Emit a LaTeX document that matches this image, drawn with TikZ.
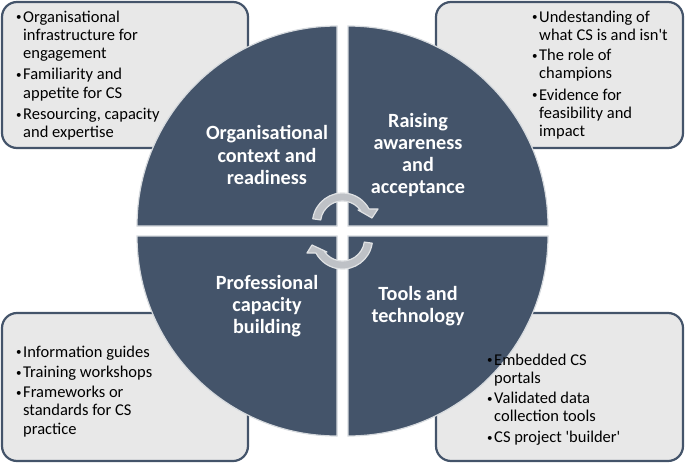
\documentclass[tikz,border=0pt]{standalone}
\usepackage{fontspec}
\setmainfont{Carlito}
\definecolor{slate}{RGB}{68,84,106}
\definecolor{boxgray}{RGB}{232,232,232}
\definecolor{arrowgray}{RGB}{190,193,198}
\definecolor{arrowedge}{RGB}{224,226,228}
\definecolor{quadedge}{RGB}{214,218,222}
\tikzset{
  infobox/.style={draw=slate, fill=boxgray, line width=2.2pt, rounded corners=15pt},
  quad/.style={fill=slate, draw=quadedge, line width=1.2pt},
  quadtitle/.style={text=white, font=\fontsize{20.2}{22.3}\selectfont\bfseries, align=center, inner sep=0pt},
  boxtext/.style={font=\fontsize{16.5}{18.3}\selectfont, inner sep=0pt, anchor=base west},
  cycarrow/.style={fill=arrowgray, draw=arrowedge, line width=1.2pt, line join=round}
}
\newcommand{\itm}{\makebox[7pt][l]{\raisebox{1.2pt}{\fontsize{11}{11}\selectfont\textbullet}}}
\newcommand{\ind}{\hspace*{7pt}}

\begin{document}
\begin{tikzpicture}[x=1pt, y=1pt]
  \useasboundingbox (0,0) rectangle (685,-463);
  % boxes behind the circle
  \draw[infobox] (2,-2) rectangle (248,-148);
  \draw[infobox] (436,-2) rectangle (683,-148);
  \draw[infobox] (2,-313) rectangle (248,-461);
  \draw[infobox] (436,-313) rectangle (683,-461);
  % quadrants
  \filldraw[quad] (337,-226) -- ++(180:200) arc[start angle=180, end angle=90, radius=200] -- cycle;
  \filldraw[quad] (348,-226) -- ++(90:200) arc[start angle=90, end angle=0, radius=200] -- cycle;
  \filldraw[quad] (348,-236) -- ++(0:200) arc[start angle=0, end angle=-90, radius=200] -- cycle;
  \filldraw[quad] (337,-236) -- ++(-90:200) arc[start angle=270, end angle=180, radius=200] -- cycle;
  % cycle arrows
  \coordinate (tc) at (342.5,-223);
  \coordinate (bc) at (342.5,-239);
  \filldraw[cycarrow] ([shift={(172:30)}]tc) arc[start angle=172, end angle=28, radius=30]
    -- (378,-209) -- (372,-218) -- (358,-210)
    -- ([shift={(34:22)}]tc) arc[start angle=34, end angle=172, radius=22] -- cycle;
  \filldraw[cycarrow] ([shift={(-8:30)}]bc) arc[start angle=-8, end angle=-152, radius=30]
    -- (307,-253) -- (312,-245) -- (327,-252)
    -- ([shift={(-146:22)}]bc) arc[start angle=-146, end angle=-8, radius=22] -- cycle;
  % quadrant titles
  \node[quadtitle] (orgtitle) at (267,-155) {Organisational\\context and\\readiness};
  \node[quadtitle] (awaretitle) at (418,-155) {Raising\\awareness\\and\\acceptance};
  \node[quadtitle] (proftitle) at (267,-306) {Professional\\capacity\\building};
  \node[quadtitle] (tooltitle) at (418,-306) {Tools and\\technology};
  % box texts
  \node[boxtext] (orgtext) at (16,-22) {\begin{tabular}[t]{@{}l@{}}
    \itm Organisational\\
    \ind infrastructure for\\
    \ind engagement\\[3pt]
    \itm Familiarity and\\
    \ind appetite for CS\\[3pt]
    \itm Resourcing, capacity\\
    \ind and expertise
  \end{tabular}};
  \node[boxtext] (awaretext) at (532,-22) {\begin{tabular}[t]{@{}l@{}}
    \itm Undestanding of\\
    \ind what CS is and isn\textquotesingle t\\[2pt]
    \itm The role of\\
    \ind champions\\[3pt]
    \itm Evidence for\\
    \ind feasibility and\\
    \ind impact
  \end{tabular}};
  \node[boxtext] (proftext) at (16,-357) {\begin{tabular}[t]{@{}l@{}}
    \itm Information guides\\[2pt]
    \itm Training workshops\\[2pt]
    \itm Frameworks or\\
    \ind standards for CS\\
    \ind practice
  \end{tabular}};
  \node[boxtext] (tooltext) at (487,-365) {\begin{tabular}[t]{@{}l@{}}
    \itm Embedded CS\\
    \ind portals\\[2pt]
    \itm Validated data\\
    \ind collection tools\\[2pt]
    \itm CS project \textquotesingle builder\textquotesingle
  \end{tabular}};
\end{tikzpicture}
\end{document}
